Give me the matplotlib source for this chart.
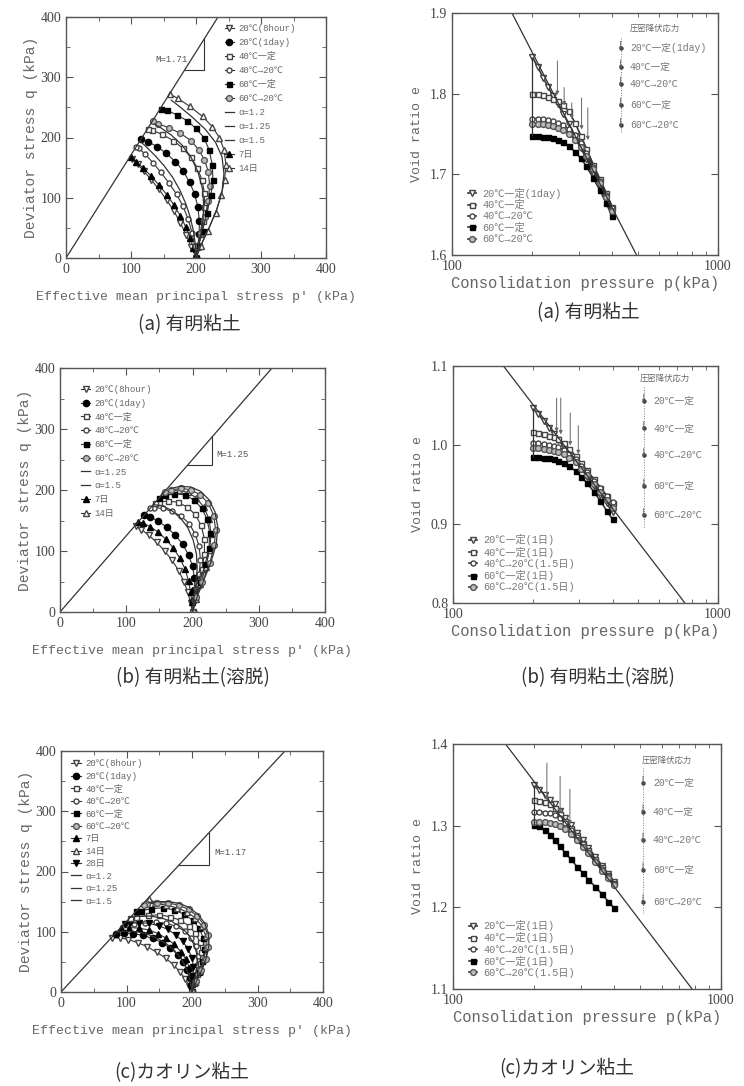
import matplotlib
matplotlib.use('Agg')
import matplotlib.pyplot as plt
from matplotlib.ticker import MultipleLocator, FixedLocator, NullFormatter, FormatStrFormatter

plt.rcParams['font.family'] = ['Liberation Serif', 'Noto Sans CJK JP']
MONO = ['Liberation Mono', 'Noto Sans CJK JP']
CJK = ['Noto Sans CJK JP']

W, H = 744, 1086

# ---------------- left column: effective stress paths (p', q) in kPa ----------------
# (a) 有明粘土
A_8H_P = [200, 193, 185, 176, 166, 155, 143, 131, 120, 110, 102]
A_8H_Q = [0, 18, 38, 58, 78, 96, 114, 130, 144, 156, 165]
A_1D_P = [200, 203, 205, 205, 203, 198, 190, 180, 168, 154, 140, 126, 116]
A_1D_Q = [0, 20, 40, 62, 84, 106, 126, 145, 160, 174, 185, 193, 197]
A_40C_P = [200, 202, 206, 210, 213, 213, 209, 202, 192, 180, 165, 148, 133, 126]
A_40C_Q = [0, 18, 40, 62, 85, 108, 130, 150, 167, 182, 195, 205, 212, 214]
A_40_20_P = [200, 198, 194, 188, 180, 170, 158, 146, 134, 122, 112, 107]
A_40_20_Q = [0, 20, 42, 64, 86, 106, 125, 142, 158, 172, 182, 184]
A_60C_P = [200, 204, 210, 217, 223, 226, 225, 220, 212, 200, 186, 170, 155, 146]
A_60C_Q = [0, 20, 45, 75, 105, 130, 155, 180, 200, 215, 228, 238, 245, 248]
A_60_20_P = [200, 203, 208, 214, 219, 221, 219, 213, 204, 192, 176, 158, 142, 134]
A_60_20_Q = [0, 20, 42, 68, 95, 120, 143, 163, 180, 195, 207, 216, 223, 227]
A_7D_P = [200, 196, 191, 184, 176, 166, 155, 143, 131, 119, 108, 100]
A_7D_Q = [0, 16, 34, 52, 70, 88, 105, 121, 136, 149, 160, 167]
A_14D_P = [200, 207, 218, 230, 239, 244, 246, 243, 236, 225, 210, 190, 172, 160]
A_14D_Q = [0, 20, 45, 75, 105, 130, 155, 180, 200, 218, 235, 252, 265, 272]
A_AL12_P = [200, 199, 196, 191, 184, 175, 164, 151, 137, 124, 114]
A_AL12_Q = [0, 22, 45, 68, 91, 113, 134, 153, 170, 184, 194]
A_AL125_P = [200, 205, 210, 212, 210, 203, 192, 178, 162, 146, 136]
A_AL125_Q = [0, 25, 55, 85, 115, 143, 168, 188, 204, 216, 222]
A_AL15_P = [200, 208, 220, 232, 240, 243, 240, 230, 214, 194, 174, 162]
A_AL15_Q = [0, 22, 50, 80, 110, 140, 168, 192, 214, 234, 252, 262]
A_M = 1.71

# (b) 有明粘土(溶脱)
B_8H_P = [200, 197, 193, 187, 179, 169, 158, 146, 134, 123, 114]
B_8H_Q = [0, 15, 32, 50, 68, 85, 100, 114, 126, 135, 141]
B_1D_P = [200, 201, 203, 203, 200, 194, 185, 174, 161, 148, 136, 127]
B_1D_Q = [0, 18, 36, 55, 75, 94, 111, 126, 139, 149, 156, 159]
B_40C_P = [200, 203, 208, 214, 218, 218, 213, 204, 192, 178, 163, 150, 143]
B_40C_Q = [0, 22, 45, 70, 95, 120, 142, 160, 172, 180, 182, 180, 178]
B_40_20_P = [200, 202, 206, 210, 212, 210, 204, 195, 183, 169, 155, 142, 136]
B_40_20_Q = [0, 20, 40, 62, 85, 108, 128, 145, 157, 165, 170, 171, 170]
B_60C_P = [200, 204, 211, 219, 225, 226, 222, 214, 202, 188, 172, 158, 150]
B_60C_Q = [0, 25, 50, 78, 105, 130, 152, 170, 184, 192, 194, 191, 187]
B_60_20_P = [200, 206, 215, 226, 233, 235, 232, 224, 212, 198, 183, 168, 158]
B_60_20_Q = [0, 25, 50, 80, 110, 135, 158, 178, 192, 200, 203, 200, 196]
B_7D_P = [200, 199, 197, 194, 189, 181, 171, 160, 148, 136, 125, 118]
B_7D_Q = [0, 16, 33, 51, 70, 88, 105, 119, 131, 140, 146, 148]
B_14D_P = [200, 205, 212, 220, 226, 228, 225, 217, 206, 193, 179, 166, 156]
B_14D_Q = [0, 22, 46, 74, 102, 128, 152, 172, 187, 196, 200, 198, 195]
B_AL125_P = [200, 202, 205, 207, 206, 201, 193, 182, 169, 155, 141]
B_AL125_Q = [0, 22, 45, 70, 95, 118, 138, 154, 166, 174, 176]
B_AL15_P = [200, 207, 217, 228, 236, 238, 234, 225, 212, 197, 181, 166]
B_AL15_Q = [0, 25, 52, 82, 112, 140, 164, 184, 198, 205, 206, 202]
B_M = 1.25

# (c) カオリン粘土
C_8H_P = [200, 196, 190, 182, 172, 160, 146, 132, 117, 103, 90, 78]
C_8H_Q = [0, 10, 21, 33, 45, 56, 66, 75, 82, 87, 90, 90]
C_1D_P = [200, 199, 197, 193, 187, 178, 167, 154, 140, 125, 110, 96, 84]
C_1D_Q = [0, 12, 24, 37, 50, 62, 73, 82, 89, 94, 97, 98, 97]
C_40C_P = [200, 203, 207, 212, 214, 212, 205, 195, 182, 167, 150, 133, 115, 106]
C_40C_Q = [0, 15, 30, 48, 66, 83, 98, 110, 119, 125, 128, 127, 124, 123]
C_40_20_P = [200, 202, 205, 208, 209, 206, 199, 189, 176, 161, 145, 128, 111, 98]
C_40_20_Q = [0, 14, 28, 44, 60, 76, 90, 101, 109, 114, 116, 115, 113, 113]
C_60C_P = [200, 204, 210, 216, 219, 217, 211, 201, 188, 173, 156, 138, 122, 115]
C_60C_Q = [0, 16, 33, 52, 72, 90, 106, 119, 129, 136, 140, 138, 135, 134]
C_60_20_P = [200, 206, 214, 221, 225, 224, 218, 208, 195, 180, 163, 146, 132, 126]
C_60_20_Q = [0, 18, 36, 55, 75, 95, 112, 126, 137, 144, 148, 148, 146, 145]
C_7D_P = [200, 200, 199, 196, 191, 183, 173, 161, 148, 134, 119, 104, 92]
C_7D_Q = [0, 13, 26, 40, 54, 67, 79, 89, 97, 103, 106, 107, 106]
C_14D_P = [200, 205, 212, 218, 222, 221, 215, 205, 192, 177, 160, 144, 134]
C_14D_Q = [0, 17, 35, 54, 74, 93, 110, 123, 133, 140, 144, 148, 155]
C_28D_P = [200, 201, 202, 202, 200, 194, 186, 175, 163, 149, 134, 119, 106, 97]
C_28D_Q = [0, 13, 27, 42, 57, 71, 84, 95, 104, 110, 114, 115, 114, 113]
C_AL12_P = [200, 198, 195, 190, 183, 173, 161, 147, 132, 116, 100, 86]
C_AL12_Q = [0, 14, 28, 42, 56, 69, 80, 89, 96, 100, 101, 100]
C_AL125_P = [200, 203, 206, 208, 207, 202, 194, 183, 169, 153, 136, 119, 105]
C_AL125_Q = [0, 15, 31, 48, 65, 81, 96, 108, 117, 123, 126, 126, 124]
C_AL15_P = [200, 207, 215, 222, 226, 225, 219, 209, 196, 181, 164, 148, 134]
C_AL15_Q = [0, 18, 37, 57, 78, 98, 115, 129, 140, 147, 150, 150, 148]
C_M = 1.17

# ---------------- right column: e - log p ----------------
R_P = [200, 210, 220, 230, 240, 250, 262, 275, 290, 305, 320, 340, 360, 380, 400]

RA_NCL_P = [168, 494]
RA_NCL_E = [1.9, 1.6]
RA_20 = [1.846, 1.833, 1.820, 1.808, 1.797, 1.787, 1.775, 1.762, 1.747, 1.733, 1.719, 1.702, 1.686, 1.670, 1.652]
RA_40C = [1.800, 1.799, 1.798, 1.796, 1.794, 1.791, 1.786, 1.778, 1.764, 1.748, 1.732, 1.712, 1.694, 1.677, 1.660]
RA_40_20 = [1.769, 1.769, 1.768, 1.767, 1.766, 1.764, 1.761, 1.756, 1.749, 1.739, 1.727, 1.709, 1.692, 1.675, 1.658]
RA_60C = [1.747, 1.747, 1.746, 1.746, 1.745, 1.743, 1.740, 1.735, 1.728, 1.720, 1.710, 1.695, 1.680, 1.664, 1.648]
RA_60_20 = [1.763, 1.763, 1.762, 1.761, 1.760, 1.758, 1.755, 1.750, 1.743, 1.734, 1.723, 1.706, 1.689, 1.672, 1.655]
RA_YP = [249, 264, 282, 307, 324]
RA_YTOP = [1.844, 1.811, 1.792, 1.798, 1.786]
RA_YBOT = [1.795, 1.782, 1.765, 1.752, 1.739]

RB_NCL_P = [155, 750]
RB_NCL_E = [1.1, 0.8]
RB_20 = [1.047, 1.039, 1.030, 1.022, 1.014, 1.006, 0.998, 0.989, 0.979, 0.970, 0.960, 0.948, 0.937, 0.926, 0.915]
RB_40C = [1.016, 1.015, 1.014, 1.012, 1.010, 1.007, 1.002, 0.995, 0.986, 0.977, 0.968, 0.957, 0.946, 0.936, 0.926]
RB_40_20 = [1.002, 1.002, 1.001, 1.000, 0.999, 0.997, 0.994, 0.989, 0.982, 0.974, 0.966, 0.955, 0.945, 0.936, 0.928]
RB_60C = [0.985, 0.985, 0.984, 0.983, 0.982, 0.980, 0.977, 0.973, 0.967, 0.960, 0.952, 0.941, 0.929, 0.917, 0.906]
RB_60_20 = [0.996, 0.996, 0.995, 0.994, 0.993, 0.991, 0.988, 0.984, 0.978, 0.970, 0.962, 0.951, 0.940, 0.930, 0.920]
RB_YP = [246, 255, 277, 297]
RB_YTOP = [1.063, 1.063, 1.044, 1.028]
RB_YBOT = [1.013, 1.010, 0.996, 0.985]

RC_NCL_P = [157, 780]
RC_NCL_E = [1.4, 1.1]
RC_20 = [1.350, 1.344, 1.338, 1.332, 1.326, 1.318, 1.310, 1.301, 1.291, 1.282, 1.273, 1.262, 1.251, 1.241, 1.231]
RC_40C = [1.331, 1.330, 1.329, 1.327, 1.322, 1.314, 1.306, 1.297, 1.288, 1.279, 1.270, 1.259, 1.249, 1.239, 1.230]
RC_40_20 = [1.317, 1.317, 1.316, 1.315, 1.313, 1.309, 1.303, 1.295, 1.286, 1.277, 1.268, 1.257, 1.247, 1.238, 1.229]
RC_60C = [1.301, 1.299, 1.295, 1.289, 1.282, 1.275, 1.267, 1.259, 1.250, 1.242, 1.234, 1.225, 1.216, 1.207, 1.199]
RC_60_20 = [1.305, 1.305, 1.304, 1.303, 1.302, 1.300, 1.296, 1.290, 1.282, 1.274, 1.266, 1.255, 1.245, 1.236, 1.227]
RC_YP = [224, 251, 273]
RC_YTOP = [1.380, 1.364, 1.348]
RC_YBOT = [1.328, 1.312, 1.298]

LEFT_LABELS = ['20℃(8hour)', '20℃(1day)', '40℃一定', '40℃→20℃', '60℃一定', '60℃→20℃']
RA_LABELS = ['20℃一定(1day)', '40℃一定', '40℃→20℃', '60℃一定', '60℃→20℃']
RBC_LABELS = ['20℃一定(1日)', '40℃一定(1日)', '40℃→20℃(1.5日)', '60℃一定(1日)', '60℃→20℃(1.5日)']
RA_KEY = ['20℃一定(1day)', '40℃一定', '40℃→20℃', '60℃一定', '60℃→20℃']
RBC_KEY = ['20℃一定', '40℃一定', '40℃→20℃', '60℃一定', '60℃→20℃']

STY = {
    '8h': dict(marker='v', mfc='white', mec='#444', ms=4),
    '1d': dict(marker='o', mfc='black', mec='black', ms=4.5),
    '40c': dict(marker='s', mfc='white', mec='#444', ms=3.6),
    '40_20': dict(marker='o', mfc='white', mec='#444', ms=3.6),
    '60c': dict(marker='s', mfc='black', mec='black', ms=3.6),
    '60_20': dict(marker='o', mfc='#bbbbbb', mec='#555', ms=4.2),
    '7d': dict(marker='^', mfc='black', mec='black', ms=4),
    '14d': dict(marker='^', mfc='white', mec='#444', ms=4),
    '28d': dict(marker='v', mfc='black', mec='black', ms=4),
}
LC = '#333333'
TC = '#555555'


def box(x0, y0, x1, y1):
    return fig.add_axes([x0 / W, 1 - y1 / H, (x1 - x0) / W, (y1 - y0) / H])


def frame(ax):
    for s in ax.spines.values():
        s.set_color('#555555')
        s.set_linewidth(1.0)
    ax.tick_params(which='both', direction='in', top=True, right=True, colors='#555555',
                   labelcolor='#444444', labelsize=10)
    ax.tick_params(which='major', length=5)
    ax.tick_params(which='minor', length=3)


def stress_panel(ax, series, alphas, M, tri, mtext, legend_order, leg_anchor, leg_space):
    handles = {}
    for key, lab, P, Q in series:
        ln, = ax.plot(P, Q, color=LC, lw=0.8, label=lab, **STY[key])
        handles[lab] = ln
    for lab, P, Q in alphas:
        ln, = ax.plot(P, Q, color=LC, lw=0.9, label=lab)
        handles[lab] = ln
    ax.plot([0, 400 / M], [0, 400], color=LC, lw=0.9)
    tp, tq = tri
    ax.plot([tq / M, tp, tp], [tq, tq, M * tp], color=LC, lw=0.8)
    ax.text(mtext[0], mtext[1], 'M=%.2f' % M, family=MONO, fontsize=6.5, color=TC,
            ha=mtext[2], va='center')
    ax.set_xlim(0, 400)
    ax.set_ylim(0, 400)
    ax.xaxis.set_major_locator(MultipleLocator(100))
    ax.yaxis.set_major_locator(MultipleLocator(100))
    ax.xaxis.set_minor_locator(MultipleLocator(50))
    ax.yaxis.set_minor_locator(MultipleLocator(50))
    frame(ax)
    ax.set_xlabel("Effective mean principal stress p' (kPa)", family=MONO, fontsize=9.5,
                  color='#666666', labelpad=11)
    ax.set_ylabel('Deviator stress q (kPa)', family=MONO, fontsize=10.5, color='#666666',
                  labelpad=2)
    ax.legend([handles[l] for l in legend_order], legend_order, loc='upper left',
              bbox_to_anchor=leg_anchor, frameon=False, handlelength=1.0, handletextpad=0.5,
              borderaxespad=0, borderpad=0, labelspacing=leg_space,
              prop={'family': MONO, 'size': 6.5}, labelcolor='#666666')


def void_panel(ax, curves, ncl, yld, ylim, labels, key, keypos):
    handles = []
    for key_s, E in curves:
        ln, = ax.plot(R_P, E, color=LC, lw=1.2, **STY[key_s])
        handles.append(ln)
    starts = [E[0] for _, E in curves]
    ax.vlines(R_P[0], min(starts), max(starts), color=LC, lw=0.9)
    ax.plot(ncl[0], ncl[1], color=LC, lw=0.9)
    for p, e0, e1 in zip(*yld):
        ax.annotate('', xy=(p, e1), xytext=(p, e0),
                    arrowprops=dict(arrowstyle='-|>', color='#666666', lw=0.7, mutation_scale=5))
    ax.set_xscale('log')
    ax.set_xlim(100, 1000)
    ax.set_ylim(*ylim)
    ax.xaxis.set_major_locator(FixedLocator([100, 1000]))
    ax.xaxis.set_major_formatter(FormatStrFormatter('%d'))
    ax.xaxis.set_minor_locator(FixedLocator([200, 300, 400, 500, 600, 700, 800, 900]))
    ax.xaxis.set_minor_formatter(NullFormatter())
    ax.yaxis.set_major_locator(MultipleLocator(0.1))
    ax.yaxis.set_major_formatter(FormatStrFormatter('%.1f'))
    frame(ax)
    ax.set_xlabel('Consolidation pressure p(kPa)', family=MONO, fontsize=11.2, color='#666666',
                  labelpad=2)
    ax.set_ylabel('Void ratio e', family=MONO, fontsize=9.5, color='#666666', labelpad=5)
    ax.legend(handles, labels, loc='lower left', bbox_to_anchor=(0.06, 0.045), frameon=False,
              handlelength=0.8, handletextpad=0.6, borderaxespad=0, borderpad=0,
              labelspacing=0.12, prop={'family': MONO, 'size': 7.3}, labelcolor='#777777')
    # key of the yield-stress arrows
    kx, tx, title_x, title_y, rows, vtop, vbot = keypos
    ax.plot([kx, kx], [vtop, vbot], transform=ax.transAxes, color='#777777', lw=0.7, ls=':')
    ax.text(title_x, title_y, '圧密降伏応力', transform=ax.transAxes, family=CJK, fontsize=6,
            color='#666666', va='center')
    for y, lab in zip(rows, key):
        ax.annotate('', xy=(kx, y - 0.02), xytext=(kx, y + 0.04), xycoords='axes fraction',
                    arrowprops=dict(arrowstyle='-|>', color='#555555', lw=0.6, mutation_scale=4))
        ax.plot([kx], [y], 'o', ms=2.2, color='#444444', transform=ax.transAxes)
        ax.text(tx, y, lab, transform=ax.transAxes, family=MONO, fontsize=7, color='#777777',
                va='center')


fig = plt.figure(figsize=(W / 100, H / 100), dpi=100)

# (a) left
ax = box(66, 17, 326, 258)
stress_panel(ax,
             [('8h', '20℃(8hour)', A_8H_P, A_8H_Q), ('7d', '7日', A_7D_P, A_7D_Q),
              ('40_20', '40℃→20℃', A_40_20_P, A_40_20_Q), ('1d', '20℃(1day)', A_1D_P, A_1D_Q),
              ('40c', '40℃一定', A_40C_P, A_40C_Q), ('60_20', '60℃→20℃', A_60_20_P, A_60_20_Q),
              ('60c', '60℃一定', A_60C_P, A_60C_Q), ('14d', '14日', A_14D_P, A_14D_Q)],
             [('α=1.2', A_AL12_P, A_AL12_Q), ('α=1.25', A_AL125_P, A_AL125_Q),
              ('α=1.5', A_AL15_P, A_AL15_Q)],
             A_M, (213, 312), (187, 330, 'right'),
             LEFT_LABELS + ['α=1.2', 'α=1.25', 'α=1.5', '7日', '14日'], (0.61, 0.972), 0.55)

# (b) left
ax = box(60, 368, 325, 612)
stress_panel(ax,
             [('8h', '20℃(8hour)', B_8H_P, B_8H_Q), ('7d', '7日', B_7D_P, B_7D_Q),
              ('1d', '20℃(1day)', B_1D_P, B_1D_Q), ('40_20', '40℃→20℃', B_40_20_P, B_40_20_Q),
              ('40c', '40℃一定', B_40C_P, B_40C_Q), ('14d', '14日', B_14D_P, B_14D_Q),
              ('60c', '60℃一定', B_60C_P, B_60C_Q), ('60_20', '60℃→20℃', B_60_20_P, B_60_20_Q)],
             [('α=1.25', B_AL125_P, B_AL125_Q), ('α=1.5', B_AL15_P, B_AL15_Q)],
             B_M, (229, 241), (236, 258, 'left'),
             LEFT_LABELS + ['α=1.25', 'α=1.5', '7日', '14日'], (0.08, 0.93), 0.52)

# (c) left
ax = box(61, 751, 323, 992)
stress_panel(ax,
             [('8h', '20℃(8hour)', C_8H_P, C_8H_Q), ('1d', '20℃(1day)', C_1D_P, C_1D_Q),
              ('7d', '7日', C_7D_P, C_7D_Q), ('40_20', '40℃→20℃', C_40_20_P, C_40_20_Q),
              ('28d', '28日', C_28D_P, C_28D_Q), ('40c', '40℃一定', C_40C_P, C_40C_Q),
              ('60c', '60℃一定', C_60C_P, C_60C_Q), ('14d', '14日', C_14D_P, C_14D_Q),
              ('60_20', '60℃→20℃', C_60_20_P, C_60_20_Q)],
             [('α=1.2', C_AL12_P, C_AL12_Q), ('α=1.25', C_AL125_P, C_AL125_Q),
              ('α=1.5', C_AL15_P, C_AL15_Q)],
             C_M, (226, 211), (234, 232, 'left'),
             LEFT_LABELS + ['7日', '14日', '28日', 'α=1.2', 'α=1.25', 'α=1.5'], (0.04, 0.965), 0.38)

# (a) right
ax = box(452, 13, 718, 255)
void_panel(ax, [('8h', RA_20), ('40c', RA_40C), ('40_20', RA_40_20), ('60c', RA_60C),
                ('60_20', RA_60_20)],
           (RA_NCL_P, RA_NCL_E), (RA_YP, RA_YTOP, RA_YBOT), (1.6, 1.9), RA_LABELS, RA_KEY,
           (0.634, 0.669, 0.669, 0.938, [0.855, 0.777, 0.707, 0.62, 0.537], 0.897, 0.504))

# (b) right
ax = box(453, 366, 718, 603)
void_panel(ax, [('8h', RB_20), ('40c', RB_40C), ('40_20', RB_40_20), ('60c', RB_60C),
                ('60_20', RB_60_20)],
           (RB_NCL_P, RB_NCL_E), (RB_YP, RB_YTOP, RB_YBOT), (0.8, 1.1), RBC_LABELS, RBC_KEY,
           (0.72, 0.755, 0.706, 0.95, [0.854, 0.737, 0.624, 0.494, 0.371], 0.913, 0.316))

# (c) right
ax = box(453, 744, 721, 989)
void_panel(ax, [('8h', RC_20), ('40c', RC_40C), ('40_20', RC_40_20), ('60c', RC_60C),
                ('60_20', RC_60_20)],
           (RC_NCL_P, RC_NCL_E), (RC_YP, RC_YTOP, RC_YBOT), (1.1, 1.4), RBC_LABELS, RBC_KEY,
           (0.709, 0.746, 0.705, 0.935, [0.84, 0.724, 0.608, 0.486, 0.356], 0.902, 0.31))

# captions
for x, y, s in [(189, 325, '(a) 有明粘土'), (588, 313, '(a) 有明粘土'),
                (193, 678, '(b) 有明粘土(溶脱)'), (598, 678, '(b) 有明粘土(溶脱)'),
                (182, 1073, '(c)カオリン粘土'), (567, 1069, '(c)カオリン粘土')]:
    fig.text(x / W, 1 - y / H, s, ha='center', va='center', family=CJK, fontsize=13.5,
             color='#333333')

fig.savefig('out.png', dpi=100, facecolor='white')
